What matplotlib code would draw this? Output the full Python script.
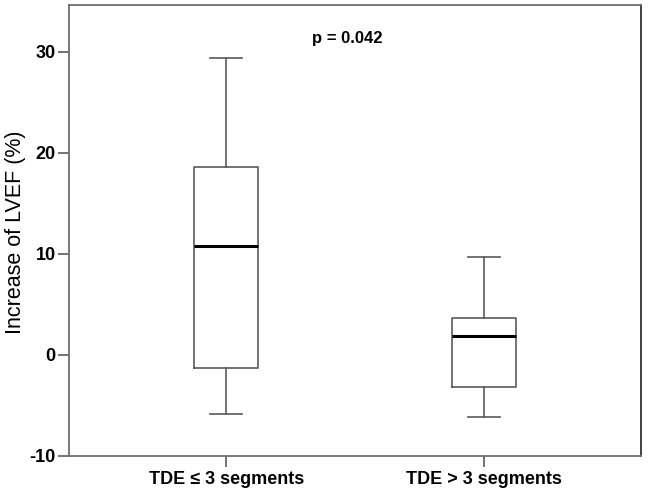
import matplotlib
matplotlib.use("Agg")
import matplotlib.pyplot as plt

# box statistics
groups = ["TDE \u2264 3 segments", "TDE > 3 segments"]
whisker_low = [-5.8, -6.1]
q1 = [-1.3, -3.2]
median = [10.8, 1.9]
q3 = [18.6, 3.6]
whisker_high = [29.4, 9.7]
yticks = [-10, 0, 10, 20, 30]
p_text = "p = 0.042"

plt.rcParams['font.family'] = ['Liberation Sans', 'DejaVu Sans']

fig = plt.figure(figsize=(6.48, 4.93), dpi=100)
ax = fig.add_axes([69/648, 1 - 456/493, 572/648, 451/493])

stats = []
for i in range(len(groups)):
    stats.append({"label": groups[i], "whislo": whisker_low[i], "q1": q1[i],
                  "med": median[i], "q3": q3[i], "whishi": whisker_high[i], "fliers": []})

edge = "#5a5a5a"
ax.bxp(stats, positions=[1, 2], widths=0.25, showfliers=False,
       boxprops=dict(color=edge, linewidth=1.2),
       whiskerprops=dict(color=edge, linewidth=1.2),
       capprops=dict(color=edge, linewidth=1.2),
       medianprops=dict(color="black", linewidth=2.2),
       capwidths=0.125)

ax.set_xlim(0.39, 2.61)
ax.set_ylim(-10, 34.6)
ax.set_yticks(yticks)
ax.set_yticklabels([str(t) for t in yticks], fontsize=13, fontweight="bold")
ax.set_xticks([1, 2])
ax.set_xticklabels(groups, fontsize=13, fontweight="bold")
ax.tick_params(axis="both", length=8, width=1.2, color=edge, pad=1.5)
ax.tick_params(axis="x", pad=2.5)
for s in ax.spines.values():
    s.set_color("#6e6e6e")
    s.set_linewidth(1.3)
ax.spines["right"].set_color("#333333")

# y label placed in figure pixels so it is not clipped
fig.text(15.5/648, 1 - 232/493, "Increase of LVEF (%)", fontsize=15.5,
         rotation=90, ha="center", va="center")
ax.text(1.47, 31.3, p_text, fontsize=12, fontweight="bold", ha="center", va="center")

fig.savefig("out.png", dpi=100)
